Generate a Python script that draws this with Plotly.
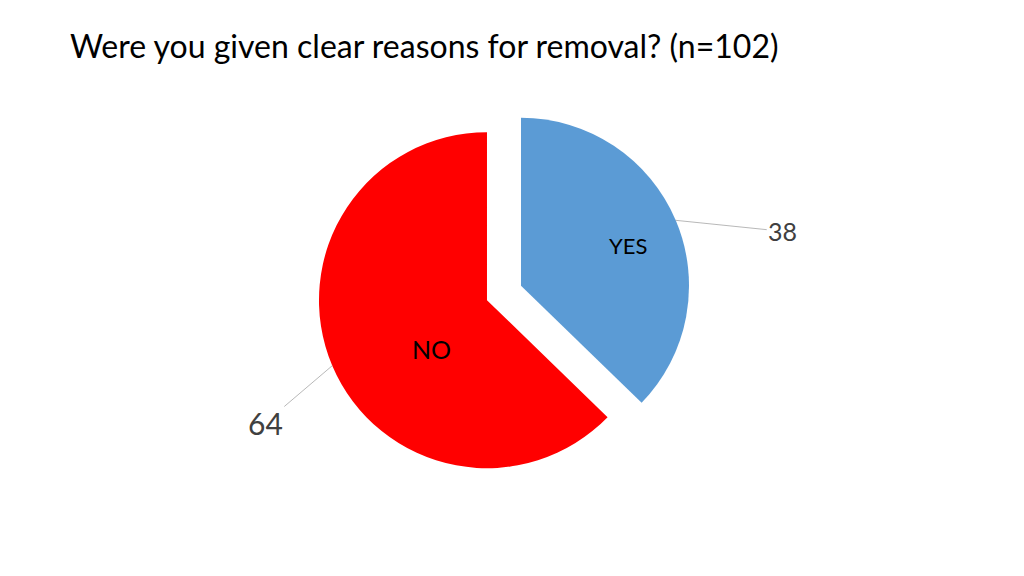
import math
import plotly.graph_objects as go

# ---- data ----
labels = ["YES", "NO"]
values = [38, 64]
colors = ["#5B9BD5", "#FF0000"]
title_text = "Were you given clear reasons for removal? (n=102)"

# ---- layout / style constants ----
W, H = 1024, 576
PAGE_OFF = 8               # browser body margin
CX, CY = 504.0 - PAGE_OFF, 293.0 - PAGE_OFF   # pie centre in px
R = 168.0                  # pie radius in px
PULL = 0.11
FONT = "Lato, 'Open Sans', sans-serif"

half = R * (1 + PULL)
dom_x = [(CX - half) / W, (CX + half) / W]
dom_y = [1 - (CY + half) / H, 1 - (CY - half) / H]

fig = go.Figure(go.Pie(
    labels=labels, values=values, sort=False, direction="clockwise", rotation=0,
    pull=[PULL] * len(values), marker=dict(colors=colors, line=dict(width=0)),
    textinfo="none", hoverinfo="label+value", showlegend=False,
    domain=dict(x=dom_x, y=dom_y),
))

# geometry derived from the data
total = sum(values)
angles = []
acc = 0
for v in values:
    start = acc / total * 360
    acc += v
    end = acc / total * 360
    angles.append((start + end) / 2)

def pt(cx, cy, r, deg):
    a = math.radians(deg)
    return cx + r * math.sin(a), cy - r * math.cos(a)

# style per slice: inner label (radius fraction, angle offset, size), value label offset and size
inner_style = [(0.68, 2.5, 22), (0.44, -18.8, 25)]
value_style = [(107, 11, 25), (-67, 57, 30)]

annotations = []
for i, (lab, val) in enumerate(zip(labels, values)):
    mid = angles[i]
    pcx, pcy = pt(CX, CY, R * PULL, mid)   # pulled slice centre
    rf, off, fs = inner_style[i]
    lx, ly = pt(pcx, pcy, R * rf, mid + off)
    annotations.append(dict(
        x=lx / W, y=1 - ly / H, xref="paper", yref="paper", text=lab,
        showarrow=False, font=dict(family=FONT, size=fs, color="#000000"),
        xanchor="center", yanchor="middle"))
    ex, ey = pt(pcx, pcy, R, mid)
    ax, ay, vfs = value_style[i]
    annotations.append(dict(
        x=ex / W, y=1 - ey / H, xref="paper", yref="paper", text=str(val),
        showarrow=True, arrowhead=0, arrowwidth=0.8, arrowcolor="#A6A6A6",
        ax=ax, ay=ay, standoff=0, startstandoff=0,
        font=dict(family=FONT, size=vfs, color="#404040"),
        xanchor="center", yanchor="middle"))

fig.update_layout(
    width=W, height=H,
    margin=dict(l=0, r=0, t=0, b=0),
    paper_bgcolor="white", plot_bgcolor="white",
    title=dict(text=title_text, x=(70 - PAGE_OFF) / W, xanchor="left",
               y=1 - (47 - PAGE_OFF) / H, yanchor="middle",
               font=dict(family=FONT, size=32, color="#000000")),
    annotations=annotations,
)

fig.write_html("out.html")
